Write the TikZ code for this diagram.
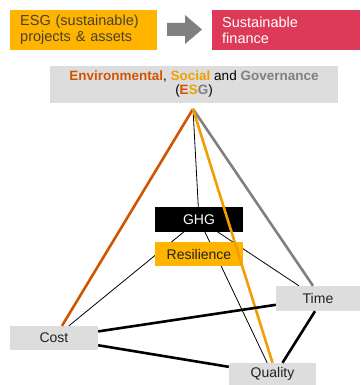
\documentclass[tikz,border=0pt]{standalone}
\usepackage{fontspec}
\setmainfont{Liberation Sans}
\definecolor{esgyellow}{HTML}{FFB400}
\definecolor{finred}{HTML}{DC3A56}
\definecolor{boxgray}{HTML}{DDDDDD}
\definecolor{envorange}{HTML}{D35400}
\definecolor{socorange}{HTML}{F29E00}
\definecolor{govgray}{HTML}{808080}
\definecolor{labeltext}{HTML}{222222}
\definecolor{esgtext}{HTML}{4A4030}
\begin{document}
\begin{tikzpicture}[x=1pt,y=-1pt,
  topbox/.style={anchor=north west,minimum height=40pt,inner xsep=10pt,inner ysep=0pt,
    text width=127pt,align=left,font=\fontsize{14.5}{16}\selectfont},
  tribox/.style={fill=boxgray,text=labeltext,minimum width=88pt,minimum height=24pt,
    inner sep=0pt,font=\fontsize{14}{16}\selectfont},
  thinlink/.style={draw=black,line width=0.8pt},
  thicklink/.style={draw=black,line width=2.6pt},
  pillar/.style={line width=2.6pt}]
\useasboundingbox (0,0) rectangle (360,385);

% Top row: projects -> finance
\node[topbox,fill=esgyellow,text=esgtext] (proj) at (10,10) {ESG (sustainable)\\projects \& assets};
\node[topbox,fill=finred,text=white,text width=128pt] (fin) at (212,10) {Sustainable\\finance};
\fill[govgray] (167,23) -- (185,23) -- (185,15) -- (202,29.5) -- (185,44) -- (185,36) -- (167,36) -- cycle;

% ESG title
\node[fill=boxgray,minimum width=288pt,minimum height=37pt,inner sep=0pt,align=center,
  font=\fontsize{13.5}{14}\selectfont] (esg) at (194,84.5)
  {\textbf{\color{envorange}Environmental}, \textbf{\color{socorange}Social} and \textbf{\color{govgray}Governance}\\
   (\textbf{\color{envorange}E\color{socorange}S\color{govgray}G})};
\coordinate (apex) at (193,109);

% Outer nodes
\node[tribox,minimum width=84pt,minimum height=25pt] (time) at (318,298.5) {Time};
\node[tribox] (cost) at (54,338) {Cost};
\node[tribox,minimum width=87pt,minimum height=22pt] (quality) at (272.5,374) {Quality};
\coordinate (ghgc) at (199,219.5);

% Thin links through the centre
\draw[thinlink] (apex) -- (ghgc);
\draw[thinlink] (ghgc) -- (cost);
\draw[thinlink] (ghgc) -- (time);
\draw[thinlink] (ghgc) -- (quality);

% Inner nodes
\node[tribox,fill=black,text=white,minimum height=25pt] (ghg) at (ghgc) {GHG};
\node[tribox,fill=esgyellow] (res) at (199,254) {Resilience};

% ESG pillars
\draw[pillar,envorange] (apex) -- ([xshift=8pt]cost.north);
\draw[pillar,govgray] (apex) -- ([xshift=-5pt]time.north);
\draw[pillar,socorange] (apex) -- (quality.north);

% Cost / time / quality triangle
\draw[thicklink] (cost) -- (time);
\draw[thicklink] (cost) -- (quality);
\draw[thicklink] ([xshift=-3pt]time.south) -- ([xshift=10pt]quality.north);
\end{tikzpicture}
\end{document}
